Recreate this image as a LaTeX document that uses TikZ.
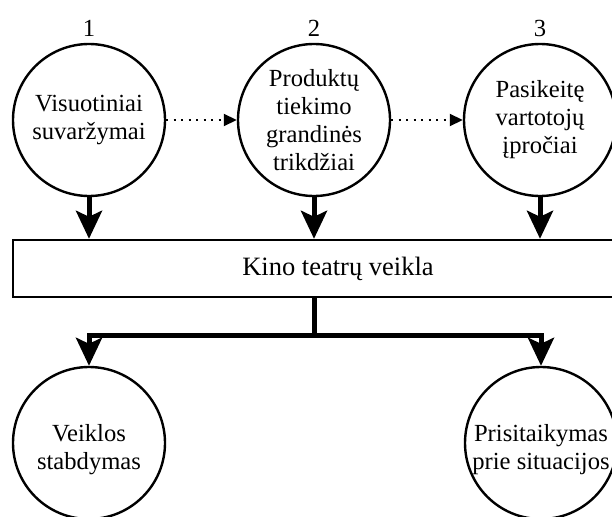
\documentclass[tikz,border=0pt]{standalone}
\usepackage{fontspec}
\setmainfont{Liberation Serif}
\usetikzlibrary{arrows.meta}
\begin{document}
\begin{tikzpicture}[x=1pt,y=-1pt,
  txt/.style={font=\fontsize{24.6}{28}\selectfont},
  bigtxt/.style={font=\fontsize{26.5}{30}\selectfont},
  circ/.style={circle,draw,line width=2.4pt,minimum size=152pt,inner sep=0pt,align=center,txt},
  bigarrow/.style={line width=5pt,-{Stealth[length=28pt,width=26pt,inset=6pt]}},
  dotarrow/.style={line width=1.8pt,dash pattern=on 2pt off 5.5pt,-{Triangle[length=13pt,width=12pt]}}]
\useasboundingbox (0,0) rectangle (612,516);
\node[txt] (n1) at (89,28) {1};
\node[txt] (n2) at (314,28) {2};
\node[txt] (n3) at (540,28) {3};
\node[circ] (c1) at (89,120) {Visuotiniai\\suvaržymai};
\node[circ] (c2) at (314,120) {Produktų\\tiekimo\\grandinės\\trikdžiai};
\node[circ] (c3) at (540,120) {Pasikeitę\\vartotojų\\įpročiai};
\draw[dotarrow] (c1.east) -- (c2.west);
\draw[dotarrow] (c2.east) -- (c3.west);
\node[draw,line width=2.4pt,minimum width=650pt,minimum height=57pt,inner sep=0pt,bigtxt] (k) at (338,268.5) {Kino teatrų veikla};
\draw[bigarrow] (c1.south) -- (c1.south |- k.north);
\draw[bigarrow] (c2.south) -- (c2.south |- k.north);
\draw[bigarrow] (c3.south) -- (c3.south |- k.north);
\node[circ,label={[txt,align=center,yshift=-7pt]center:Veiklos\\stabdymas}] (b1) at (89,443) {};
\node[circ,label={[txt,align=center,yshift=-7pt]center:Prisitaikymas\\prie situacijos}] (b2) at (541,443) {};
\coordinate (j) at (314,335);
\draw[line width=5pt] (j |- k.south) -- (j);
\draw[bigarrow] (j) -| (b1.north);
\draw[bigarrow] (j) -| (b2.north);
\end{tikzpicture}
\end{document}
